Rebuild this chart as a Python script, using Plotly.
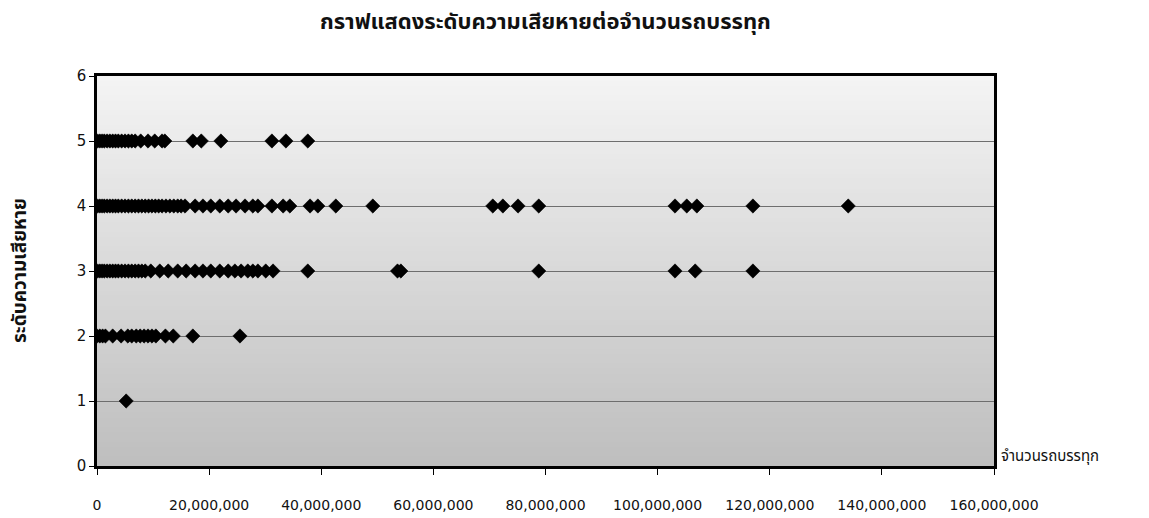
import plotly.graph_objects as go

# Damage level (y) vs. number of trucks (x, in millions)
MILLION = 1_000_000

level5 = [0.1, 0.5, 0.9, 1.3, 1.8, 2.3, 2.8, 3.3, 3.8, 4.4, 5.0, 5.6, 6.2, 6.8,
          7.8, 9.1, 10.3, 11.6, 12.1, 17.1, 18.6, 22.1, 31.2, 33.7, 37.6]
level4 = [0.1, 0.5, 0.9, 1.3, 1.8, 2.3, 2.8, 3.3, 3.8, 4.4, 5.0, 5.6, 6.2, 6.8,
          7.4, 8.0, 8.6, 9.2, 9.8, 10.4, 11.0, 11.6, 12.3, 13.0, 13.7, 14.4,
          15.0, 15.7, 17.5, 18.9, 20.3, 21.9, 23.4, 24.8, 26.4, 27.8, 28.7,
          31.2, 33.2, 34.4, 38.0, 39.4, 42.6, 49.2, 70.6, 72.4, 75.1, 78.8,
          103.1, 105.2, 107.0, 117.0, 134.0]
level3 = [0.1, 0.5, 0.9, 1.3, 1.8, 2.3, 2.8, 3.3, 3.8, 4.4, 5.0, 5.6, 6.2, 6.8,
          7.4, 8.0, 8.6, 9.6, 11.2, 12.7, 14.4, 15.9, 17.5, 18.9, 20.3, 21.9,
          23.4, 24.6, 25.7, 26.9, 27.8, 28.7, 30.1, 31.4, 37.6, 53.6, 54.2,
          78.8, 103.1, 106.7, 117.0]
level2 = [0.0, 0.5, 1.0, 1.5, 2.8, 4.3, 5.5, 6.2, 7.0, 7.7, 8.4, 9.1, 9.8,
          10.5, 12.2, 13.6, 17.1, 25.5]
level1 = [5.2]

levels = {5: level5, 4: level4, 3: level3, 2: level2, 1: level1}

x_ticks = [0, 20, 40, 60, 80, 100, 120, 140, 160]
x_tick_text = ["0", "20,000,000", "40,000,000", "60,000,000", "80,000,000",
               "100,000,000", "120,000,000", "140,000,000", "160,000,000"]
y_ticks = [0, 1, 2, 3, 4, 5, 6]

title_text = "กราฟแสดงระดับความเสียหายต่อจำนวนรถบรรทุก"
x_title = "จำนวนรถบรรทุก"
y_title = "ระดับความเสียหาย"

xs, ys = [], []
for lvl, vals in levels.items():
    for v in vals:
        xs.append(v * MILLION)
        ys.append(lvl)

fig = go.Figure()
fig.add_trace(go.Scatter(
    x=xs, y=ys, mode="markers",
    marker=dict(symbol="diamond", size=11, color="black",
                line=dict(color="black", width=0.5)),
    showlegend=False, hoverinfo="x+y",
))

# Vertical grey gradient behind the plot area
n_bands = 80
top = (0xF4, 0xF4, 0xF4)
bottom = (0xBE, 0xBE, 0xBE)
shapes = []
for i in range(n_bands):
    t = (i + 0.5) / n_bands
    c = tuple(round(bottom[k] + (top[k] - bottom[k]) * t) for k in range(3))
    shapes.append(dict(
        type="rect", xref="x domain", yref="y domain",
        x0=0, x1=1, y0=i / n_bands, y1=(i + 1) / n_bands + 0.002,
        fillcolor="rgb(%d,%d,%d)" % c, line=dict(width=0), layer="below",
    ))

tick_font = dict(family="DejaVu Sans, Arial, sans-serif", size=14, color="#111")
thai_font = "Noto Sans Thai, Tahoma, DejaVu Sans, sans-serif"

fig.update_layout(
    width=1149, height=518,
    margin=dict(l=97, r=155, t=76, b=52, autoexpand=False),
    paper_bgcolor="white", plot_bgcolor="white",
    shapes=shapes,
    xaxis=dict(
        range=[0, 160 * MILLION], automargin=False,
        tickvals=[v * MILLION for v in x_ticks], ticktext=x_tick_text,
        showgrid=False, zeroline=False,
        showline=True, linecolor="black", linewidth=2.5, mirror=True,
        ticks="outside", ticklen=6, tickcolor="black", tickwidth=1,
        ticklabelstandoff=18, tickfont=tick_font,
    ),
    yaxis=dict(
        range=[0, 6], tickvals=y_ticks, automargin=False,
        showgrid=True, gridcolor="#6e6e6e", gridwidth=1, zeroline=False,
        showline=True, linecolor="black", linewidth=2.5, mirror=True,
        ticks="outside", ticklen=5, tickcolor="black", tickwidth=1,
        tickfont=dict(family="DejaVu Sans, Arial, sans-serif", size=15,
                      color="#111"),
    ),
    annotations=[
        dict(text="<b>" + title_text + "</b>", xref="paper", yref="paper",
             x=0.5, y=1, yshift=54, xanchor="center", yanchor="middle",
             showarrow=False,
             font=dict(family=thai_font, size=22, color="#111")),
        dict(text=x_title, xref="paper", yref="paper", x=1, y=0,
             xshift=5, yshift=10, xanchor="left", yanchor="middle",
             showarrow=False,
             font=dict(family=thai_font, size=15, color="#111")),
        dict(text="<b>" + y_title + "</b>", xref="paper", yref="paper",
             x=0, y=0.5, xshift=-77, xanchor="center", yanchor="middle",
             textangle=-90, showarrow=False,
             font=dict(family=thai_font, size=19, color="#111")),
    ],
)

fig.write_html("out.html")
